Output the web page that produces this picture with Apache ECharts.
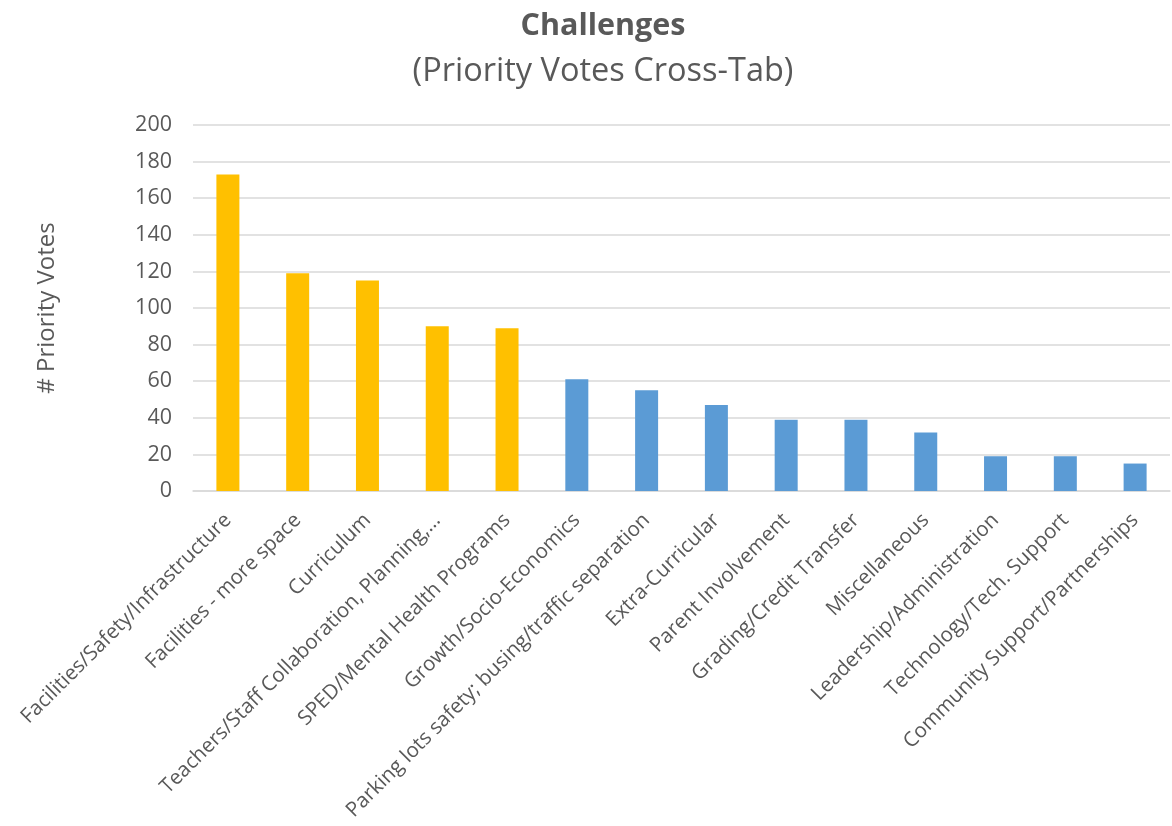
<!DOCTYPE html>
<html>
<head>
<meta charset="utf-8">
<script src="https://cdn.jsdelivr.net/npm/echarts@6/dist/echarts.min.js"></script>
<style>
  html, body { margin: 0; padding: 0; background: #fff; }
  #chart { width: 1172px; height: 826px; }
</style>
</head>
<body>
<div id="chart"></div>
<script>
// Challenge categories, in ranked order
const categories = [
  'Facilities/Safety/Infrastructure',
  'Facilities - more space',
  'Curriculum',
  'Teachers/Staff Collaboration, Planning,…',
  'SPED/Mental Health Programs',
  'Growth/Socio-Economics',
  'Parking lots safety; busing/traffic separation',
  'Extra-Curricular',
  'Parent Involvement',
  'Grading/Credit Transfer',
  'Miscellaneous',
  'Leadership/Administration',
  'Technology/Tech. Support',
  'Community Support/Partnerships'
];

// Number of priority votes per category
const votes = [173, 119, 115, 90, 89, 61, 55, 47, 39, 39, 32, 19, 19, 15];

// The first five categories are the top priorities
const topCount = 5;

const colorTop = '#FFC000';
const colorRest = '#5B9BD5';
const textColor = '#595959';
const font = '"Open Sans", "Noto Sans", sans-serif';

const chart = echarts.init(document.getElementById('chart'));

chart.setOption({
  backgroundColor: '#ffffff',
  animation: false,
  title: {
    text: 'Challenges',
    subtext: '(Priority Votes Cross-Tab)',
    left: 598,
    textAlign: 'center',
    top: 6,
    itemGap: 13,
    textStyle: { fontFamily: font, fontSize: 30.5, fontWeight: 'bold', color: textColor },
    subtextStyle: { fontFamily: font, fontSize: 32.5, color: textColor }
  },
  grid: { left: 193, right: 2, top: 125, bottom: 335, containLabel: false },
  xAxis: {
    type: 'category',
    data: categories,
    axisLine: { lineStyle: { color: '#D9D9D9', width: 1.5 } },
    axisTick: { show: false },
    axisLabel: {
      rotate: 45,
      interval: 0,
      margin: 26,
      fontFamily: font,
      fontSize: 20.5,
      color: textColor
    }
  },
  yAxis: {
    type: 'value',
    min: 0,
    max: 200,
    interval: 20,
    name: '# Priority Votes',
    nameLocation: 'middle',
    nameGap: 134,
    nameTextStyle: { fontFamily: font, fontSize: 24, color: textColor },
    axisLine: { show: false },
    axisTick: { show: false },
    axisLabel: { fontFamily: font, fontSize: 21.5, color: textColor, margin: 21 },
    splitLine: { lineStyle: { color: '#D9D9D9', width: 1.5 } }
  },
  series: [{
    type: 'bar',
    barWidth: 23,
    data: votes.map((v, i) => ({
      value: v,
      itemStyle: { color: i < topCount ? colorTop : colorRest }
    }))
  }]
});
</script>
</body>
</html>
